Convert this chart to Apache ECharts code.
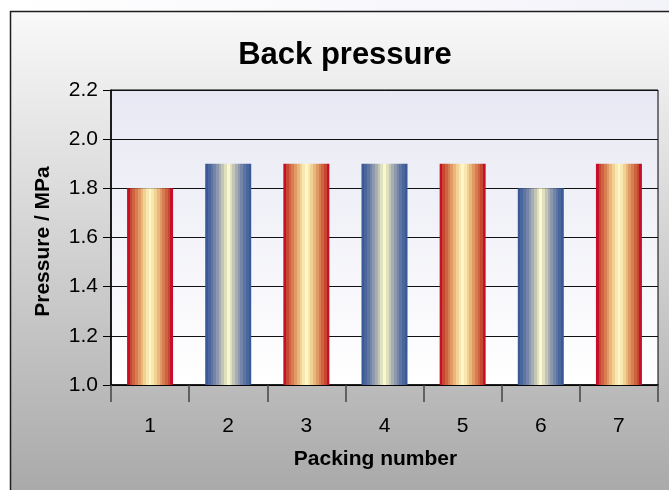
<!DOCTYPE html>
<html>
<head>
<meta charset="utf-8">
<script src="https://cdn.jsdelivr.net/npm/echarts@6/dist/echarts.min.js"></script>
<style>
  html, body { margin: 0; padding: 0; background: #ffffff; }
  #chart { width: 669px; height: 490px; }
</style>
</head>
<body>
<div id="chart"></div>
<script>
// Back pressure per packing
const packingNumbers = ['1', '2', '3', '4', '5', '6', '7'];
const pressureMPa = [1.8, 1.9, 1.9, 1.9, 1.9, 1.8, 1.9];
const barStyles = ['red', 'blue', 'red', 'blue', 'red', 'blue', 'red'];

const FONT = '"Liberation Sans", Arial, Helvetica, sans-serif';

// Striped horizontal gradients (edge -> centre -> edge)
const redStripes = ['#c5102d', '#c8472f', '#cf6341', '#d87d52', '#e19a66', '#e9b67c', '#f1d294', '#f8e8b0', '#fdf7c9'];
const blueStripes = ['#3a5997', '#4a669d', '#5d75a3', '#7585a9', '#8e98ad', '#a8adb1', '#c3c6b7', '#dfe0bf', '#fbf8cb'];

function stripeGradient(half) {
  const seq = half.concat(half.slice(0, -1).reverse());
  const n = seq.length;
  const stops = [];
  seq.forEach(function (c, i) {
    stops.push({ offset: i / n, color: c });
    stops.push({ offset: (i + 1) / n, color: c });
  });
  return new echarts.graphic.LinearGradient(0, 0, 1, 0, stops);
}

const fills = { red: stripeGradient(redStripes), blue: stripeGradient(blueStripes) };

const chart = echarts.init(document.getElementById('chart'), null, { renderer: 'canvas' });

chart.setOption({
  animation: false,
  backgroundColor: '#ffffff',
  graphic: [
    {
      type: 'rect', z: -10, silent: true,
      shape: { x: 0, y: 0, width: 669, height: 11 },
      style: { fill: new echarts.graphic.LinearGradient(0, 0, 1, 0, [
        { offset: 0, color: '#ffffff' }, { offset: 1, color: '#f3f3fa' }]) }
    },
    {
      type: 'rect', z: -10, silent: true,
      shape: { x: 10.5, y: 11.5, width: 700, height: 500 },
      style: {
        fill: new echarts.graphic.LinearGradient(0, 0, 0, 1, [
          { offset: 0, color: '#f9f9f9' }, { offset: 1, color: '#a6a6a6' }]),
        stroke: '#1e1e1e', lineWidth: 1.5
      }
    }
  ],
  title: {
    text: 'Back pressure',
    left: 340, top: 35, textAlign: 'center',
    textStyle: { fontFamily: FONT, fontSize: 31, fontWeight: 'bold', color: '#000' }
  },
  grid: {
    left: 111, right: 11, top: 90, bottom: 105,
    show: true,
    borderColor: '#000', borderWidth: 1,
    backgroundColor: new echarts.graphic.LinearGradient(0, 0, 0, 1, [
      { offset: 0, color: '#e7e8f3' }, { offset: 1, color: '#ffffff' }])
  },
  xAxis: {
    type: 'category',
    data: packingNumbers,
    name: 'Packing number',
    nameLocation: 'middle',
    nameGap: 64,
    nameTextStyle: { fontFamily: FONT, fontSize: 21, fontWeight: 'bold', color: '#000',
      verticalAlign: 'top', padding: [0, 18, 0, 0] },
    axisLine: { lineStyle: { color: '#000', width: 1.5 } },
    axisTick: { show: true, length: 17, lineStyle: { color: '#444', width: 1.5 } },
    axisLabel: { margin: 31, fontFamily: FONT, fontSize: 21, color: '#000' }
  },
  yAxis: {
    type: 'value',
    min: 1.0, max: 2.2, interval: 0.2,
    name: 'Pressure / MPa',
    nameLocation: 'middle',
    nameGap: 57,
    nameTextStyle: { fontFamily: FONT, fontSize: 21, fontWeight: 'bold', color: '#000',
      padding: [0, 8, 0, 0] },
    axisLine: { show: true, lineStyle: { color: '#000', width: 1.5 } },
    axisTick: { show: true, length: 8, lineStyle: { color: '#000' } },
    axisLabel: { margin: 13, fontFamily: FONT, fontSize: 21, color: '#000',
      formatter: function (v) { return v.toFixed(1); } },
    splitLine: { show: true, lineStyle: { color: '#111', width: 1.2 } }
  },
  series: [{
    type: 'bar',
    barWidth: 46,
    data: pressureMPa.map(function (v, i) {
      return { value: v, itemStyle: { color: fills[barStyles[i]] } };
    })
  }]
});
</script>
</body>
</html>
